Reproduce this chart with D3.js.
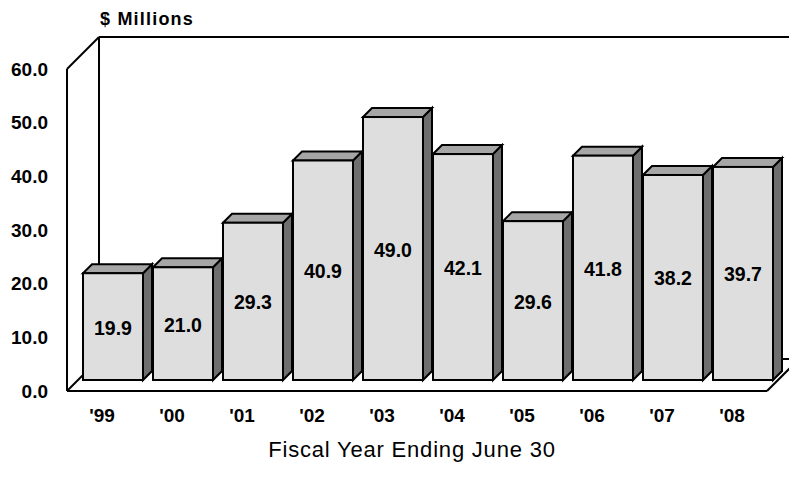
<!DOCTYPE html>
<html>
<head>
<meta charset="utf-8">
<script src="https://cdn.jsdelivr.net/npm/d3@7"></script>
<style>
  html, body { margin: 0; padding: 0; background: #fff; }
  svg { display: block; }
  text { font-family: "Liberation Sans", Arial, sans-serif; fill: #000; }
</style>
</head>
<body>
<svg id="chart" width="789" height="478"></svg>
<script>
// Fiscal years and amounts ($ millions)
const years = ["'99", "'00", "'01", "'02", "'03", "'04", "'05", "'06", "'07", "'08"];
const amounts = [19.9, 21.0, 29.3, 40.9, 49.0, 42.1, 29.6, 41.8, 38.2, 39.7];
const yTicks = [0, 10, 20, 30, 40, 50, 60];

const svg = d3.select("#chart");
const W = 789, H = 478;

// front plane of the 3D box
const plotLeft = 67, plotRight = 767, plotBottom = 391, plotTop = 69;
const wallDepth = 32;   // offset of the back wall
const barOffset = 11;   // bars sit this far behind the front plane
const barDepth = 9;     // thickness of each bar

const x = d3.scaleBand().domain(years).range([plotLeft, plotRight])
  .paddingInner(1 / 7).paddingOuter(1 / 14);
const y = d3.scaleLinear().domain([0, 60]).range([plotBottom, plotTop]);

const line = (pts) => "M" + pts.map(p => p.join(",")).join("L");

// walls and floor
const g = svg.append("g")
  .attr("fill", "none").attr("stroke", "#000").attr("stroke-width", 2)
  .attr("stroke-linejoin", "miter");
const bx = plotLeft + wallDepth, by = y(60) - wallDepth, bb = plotBottom - wallDepth;
g.append("path").attr("d", line([[bx, by], [W + 40, by]]));                       // back wall top
g.append("path").attr("d", line([[bx, by], [bx, bb]]));                            // back wall left edge
g.append("path").attr("d", line([[bx, bb], [W + 40, bb]]));                        // back wall bottom
g.append("path").attr("d", line([[plotLeft, plotTop], [bx, by]]));                 // left wall top
g.append("path").attr("d", line([[plotLeft, plotTop], [plotLeft, plotBottom]]));  // left wall front edge
g.append("path").attr("d", line([[plotLeft, plotBottom], [bx, bb]]));              // floor left
g.append("path").attr("d", line([[plotLeft, plotBottom], [plotRight, plotBottom]])); // floor front
g.append("path").attr("d", line([[plotRight, plotBottom], [plotRight + wallDepth, bb]])); // floor right

// bars
const bars = svg.append("g").attr("stroke", "#000").attr("stroke-width", 2)
  .attr("stroke-linejoin", "miter");
years.forEach((yr, i) => {
  const v = amounts[i];
  const x0 = x(yr) + barOffset, x1 = x0 + x.bandwidth();
  const y0 = y(v) - barOffset, y1 = y(0) - barOffset;
  const d = barDepth;
  // right side face
  bars.append("path").attr("fill", "#6e6e6e")
    .attr("d", line([[x1, y0], [x1 + d, y0 - d], [x1 + d, y1 - d], [x1, y1]]) + "Z");
  // top face
  bars.append("path").attr("fill", "#a6a6a6")
    .attr("d", line([[x0, y0], [x0 + d, y0 - d], [x1 + d, y0 - d], [x1, y0]]) + "Z");
  // front face
  bars.append("rect").attr("fill", "#dedede")
    .attr("x", x0).attr("y", y0).attr("width", x1 - x0).attr("height", y1 - y0);
  // value label
  svg.append("text")
    .attr("x", (x0 + x1) / 2).attr("y", (y0 + y1) / 2 + 1)
    .attr("text-anchor", "middle").attr("dominant-baseline", "central")
    .attr("font-size", 19.5).attr("font-weight", "bold")
    .text(v.toFixed(1));
});

// value axis
const yAxis = svg.append("g").attr("transform", `translate(${plotLeft},0)`)
  .call(d3.axisLeft(y).tickValues(yTicks).tickSize(0).tickPadding(19)
    .tickFormat(d3.format(".1f")));
yAxis.select(".domain").remove();
yAxis.selectAll("text").attr("font-size", 19).attr("font-weight", "bold")
  .attr("font-family", "Liberation Sans, Arial, sans-serif");

// category axis
const xAxis = svg.append("g").attr("transform", `translate(0,${plotBottom})`)
  .call(d3.axisBottom(x).tickSize(0).tickPadding(18));
xAxis.select(".domain").remove();
xAxis.selectAll("text").attr("font-size", 19).attr("font-weight", "bold")
  .attr("font-family", "Liberation Sans, Arial, sans-serif");

// titles
svg.append("text").attr("x", 100).attr("y", 25)
  .attr("font-size", 18).attr("font-weight", "bold")
  .attr("letter-spacing", 1.2).text("$ Millions");
svg.append("text").attr("x", 412).attr("y", 457).attr("text-anchor", "middle")
  .attr("font-size", 22).attr("letter-spacing", 0.8).text("Fiscal Year Ending June 30");
</script>
</body>
</html>
